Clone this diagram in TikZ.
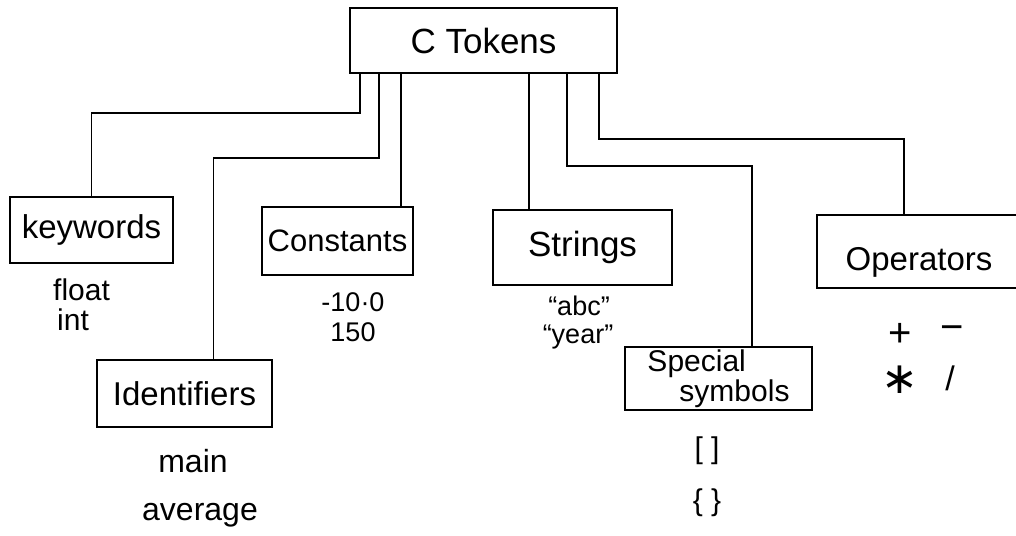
\documentclass[tikz,border=0pt]{standalone}
\usepackage{fontspec}
\setmainfont{Liberation Sans}
\newfontfamily\symfont{DejaVu Sans}
\begin{document}
\begin{tikzpicture}[x=1pt,y=-1pt,
  box/.style={draw, line width=1.6pt, inner sep=0pt, font=\fontsize{33}{36}\selectfont},
  lbl/.style={inner sep=0pt, font=\fontsize{30}{34}\selectfont},
  small/.style={inner sep=0pt, font=\fontsize{27}{30}\selectfont},
  big/.style={inner sep=0pt, font=\fontsize{40}{40}\selectfont},
  conn/.style={line width=1.6pt}]
\useasboundingbox (0,0) rectangle (1016,535);
\fill[white] (0,0) rectangle (1016,535);

% boxes
\node[box, minimum width=267pt, minimum height=65pt, font=\fontsize{35}{38}\selectfont] (ctok) at (483.5,40.5) {C Tokens};
\node[box, minimum width=163pt, minimum height=66pt] (kw) at (91.5,230) {keywords};
\node[box, minimum width=175pt, minimum height=67pt] (id) at (184.5,393.5) {Identifiers};
\node[box, minimum width=151pt, minimum height=68pt, font=\fontsize{31}{34}\selectfont] (cst) at (337.5,241) {Constants};
\node[box, minimum width=179pt, minimum height=75pt, font=\fontsize{35}{38}\selectfont] (str) at (582.5,247.5) {Strings};
\node[box, minimum width=187pt, minimum height=63pt, align=left, font=\fontsize{30}{30}\selectfont] (spec) at (718.5,378.5) {Special\\\hspace*{32pt}symbols};
\node[box, minimum width=213pt, minimum height=73pt] (opbox) at (923.5,251.5) {};
\node[lbl, font=\fontsize{33}{36}\selectfont] (optxt) at (919,262) {Operators};

% connectors
\draw[conn] ([xshift=11pt]ctok.south west) -- ++(0,39) -| (kw.north);
\draw[conn] ([xshift=30pt]ctok.south west) -- ++(0,84) -| ([xshift=29pt]id.north);
\draw[conn] ([xshift=52pt]ctok.south west) coordinate (c3) -- (c3 |- cst.north);
\draw[conn] ([xshift=180pt]ctok.south west) coordinate (c4) -- (c4 |- str.north);
\draw[conn] ([xshift=218pt]ctok.south west) -- ++(0,92) -| ([xshift=33.5pt]spec.north);
\draw[conn] ([xshift=250pt]ctok.south west) -- ++(0,65) -| ([xshift=88pt]opbox.north west);

% examples
\node[lbl, anchor=base west] (kwa) at (53,300) {float};
\node[lbl, anchor=base west] (kwb) at (57,330) {int};
\node[lbl, font=\fontsize{32}{34}\selectfont, anchor=base] (ida) at (193,472) {main};
\node[lbl, font=\fontsize{32}{34}\selectfont, anchor=base] (idb) at (200,520) {average};
\node[small, anchor=base] (csa) at (353,311) {-10·0};
\node[small, anchor=base] (csb) at (353,341) {150};
\node[small, anchor=base] (sta) at (579,315) {“abc”};
\node[small, anchor=base] (stb) at (578,343) {“year”};
\node[lbl, anchor=base] (spa) at (707,458) {[ ]};
\node[lbl, anchor=base] (spb) at (707,510) {\{ \}};
\node[big] (opa) at (900,335) {+};
\node[big] (opb) at (952,333) {−};
\node[big, font=\symfont\fontsize{44}{44}\selectfont] (opc) at (900,380) {∗};
\node[big, font=\fontsize{34}{34}\selectfont] (opd) at (950,378) {/};
\end{tikzpicture}
\end{document}
